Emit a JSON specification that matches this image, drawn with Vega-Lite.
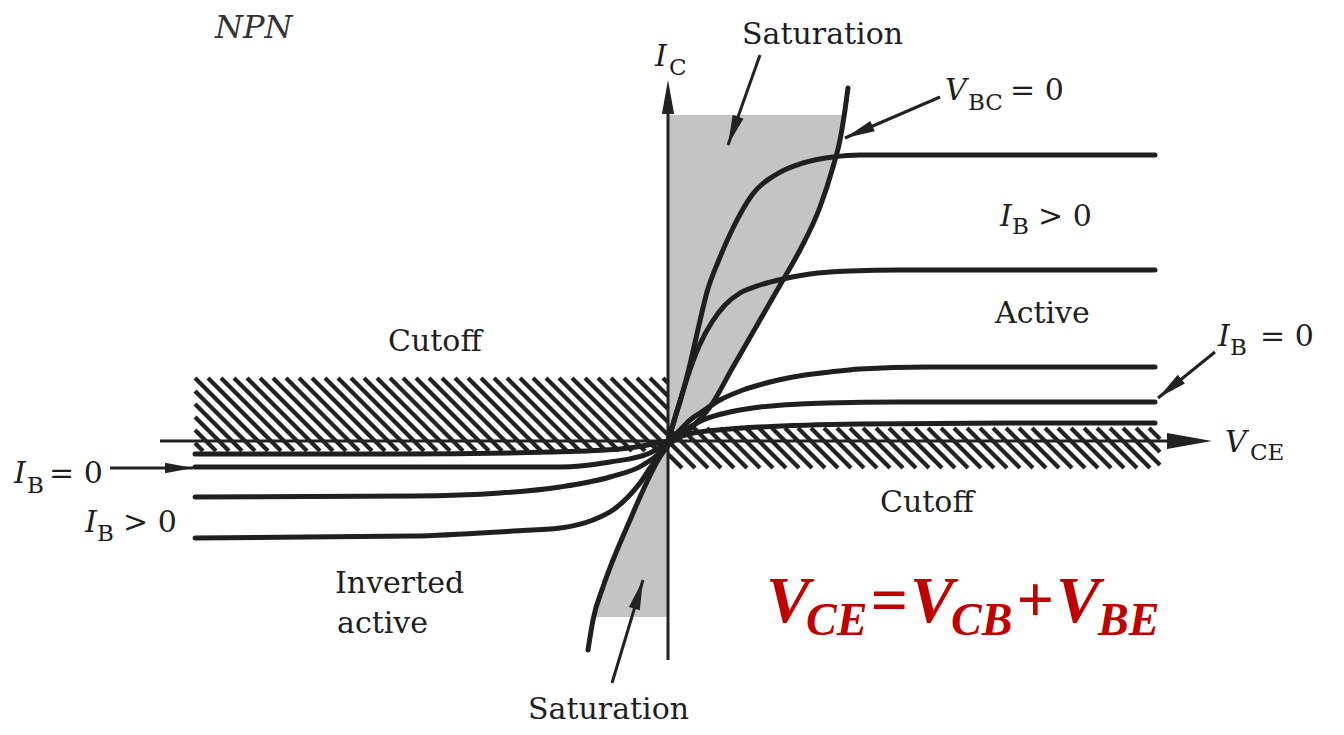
{
  "$schema": "https://vega.github.io/schema/vega-lite/v6.json",
  "width": 1344,
  "height": 735,
  "autosize": {"type": "fit", "contains": "padding"},
  "padding": 0,
  "background": "white",
  "config": {"view": {"stroke": null}},
  "datasets": {
    "shadeUp": [
      {"y": 0, "x": 0.07}, {"y": 0.10, "x": 0.20}, {"y": 0.34, "x": 0.42}, {"y": 0.74, "x": 0.65},
      {"y": 1.21, "x": 0.92}, {"y": 1.61, "x": 1.15}, {"y": 1.91, "x": 1.32}, {"y": 2.34, "x": 1.52},
      {"y": 2.74, "x": 1.65}, {"y": 3.01, "x": 1.72}, {"y": 3.26, "x": 1.765}
    ],
    "shadeDown": [
      {"y": 0, "x": 0}, {"y": -0.05, "x": 0}, {"y": -0.16, "x": -0.08}, {"y": -0.56, "x": -0.28},
      {"y": -0.79, "x": -0.38}, {"y": -1.19, "x": -0.55}, {"y": -1.46, "x": -0.65}, {"y": -1.76, "x": -0.74}
    ],
    "hatch": [
      {"x": -4.73, "y": -0.02, "x2": -4.65, "y2": -0.10},
      {"x": -4.73, "y": 0.11, "x2": -4.52, "y2": -0.10},
      {"x": -4.73, "y": 0.24, "x2": -4.39, "y2": -0.10},
      {"x": -4.73, "y": 0.37, "x2": -4.26, "y2": -0.10},
      {"x": -4.73, "y": 0.50, "x2": -4.13, "y2": -0.10},
      {"x": -4.73, "y": 0.63, "x2": -4.00, "y2": -0.10},
      {"x": -4.60, "y": 0.63, "x2": -3.87, "y2": -0.10},
      {"x": -4.47, "y": 0.63, "x2": -3.74, "y2": -0.10},
      {"x": -4.34, "y": 0.63, "x2": -3.61, "y2": -0.10},
      {"x": -4.21, "y": 0.63, "x2": -3.48, "y2": -0.10},
      {"x": -4.08, "y": 0.63, "x2": -3.35, "y2": -0.10},
      {"x": -3.95, "y": 0.63, "x2": -3.22, "y2": -0.10},
      {"x": -3.82, "y": 0.63, "x2": -3.09, "y2": -0.10},
      {"x": -3.69, "y": 0.63, "x2": -2.96, "y2": -0.10},
      {"x": -3.56, "y": 0.63, "x2": -2.83, "y2": -0.10},
      {"x": -3.43, "y": 0.63, "x2": -2.70, "y2": -0.10},
      {"x": -3.30, "y": 0.63, "x2": -2.57, "y2": -0.10},
      {"x": -3.17, "y": 0.63, "x2": -2.44, "y2": -0.10},
      {"x": -3.04, "y": 0.63, "x2": -2.31, "y2": -0.10},
      {"x": -2.91, "y": 0.63, "x2": -2.18, "y2": -0.10},
      {"x": -2.78, "y": 0.63, "x2": -2.05, "y2": -0.10},
      {"x": -2.65, "y": 0.63, "x2": -1.92, "y2": -0.10},
      {"x": -2.52, "y": 0.63, "x2": -1.79, "y2": -0.10},
      {"x": -2.39, "y": 0.63, "x2": -1.66, "y2": -0.10},
      {"x": -2.26, "y": 0.63, "x2": -1.53, "y2": -0.10},
      {"x": -2.13, "y": 0.63, "x2": -1.40, "y2": -0.10},
      {"x": -2.00, "y": 0.63, "x2": -1.27, "y2": -0.10},
      {"x": -1.87, "y": 0.63, "x2": -1.14, "y2": -0.10},
      {"x": -1.74, "y": 0.63, "x2": -1.01, "y2": -0.10},
      {"x": -1.61, "y": 0.63, "x2": -0.88, "y2": -0.10},
      {"x": -1.48, "y": 0.63, "x2": -0.75, "y2": -0.10},
      {"x": -1.35, "y": 0.63, "x2": -0.62, "y2": -0.10},
      {"x": -1.22, "y": 0.63, "x2": -0.49, "y2": -0.10},
      {"x": -1.09, "y": 0.63, "x2": -0.36, "y2": -0.10},
      {"x": -0.96, "y": 0.63, "x2": -0.23, "y2": -0.10},
      {"x": -0.83, "y": 0.63, "x2": -0.10, "y2": -0.10},
      {"x": -0.70, "y": 0.63, "x2": 0, "y2": -0.07},
      {"x": -0.57, "y": 0.63, "x2": 0, "y2": 0.06},
      {"x": -0.44, "y": 0.63, "x2": 0, "y2": 0.19},
      {"x": -0.31, "y": 0.63, "x2": 0, "y2": 0.32},
      {"x": -0.18, "y": 0.63, "x2": 0, "y2": 0.45},
      {"x": -0.05, "y": 0.63, "x2": 0, "y2": 0.58},
      {"x": 0, "y": -0.13, "x2": 0.14, "y2": -0.27},
      {"x": 0, "y": 0.00, "x2": 0.27, "y2": -0.27},
      {"x": 0.00, "y": 0.13, "x2": 0.40, "y2": -0.27},
      {"x": 0.13, "y": 0.13, "x2": 0.53, "y2": -0.27},
      {"x": 0.26, "y": 0.13, "x2": 0.66, "y2": -0.27},
      {"x": 0.39, "y": 0.13, "x2": 0.79, "y2": -0.27},
      {"x": 0.52, "y": 0.13, "x2": 0.92, "y2": -0.27},
      {"x": 0.65, "y": 0.13, "x2": 1.05, "y2": -0.27},
      {"x": 0.78, "y": 0.13, "x2": 1.18, "y2": -0.27},
      {"x": 0.91, "y": 0.13, "x2": 1.31, "y2": -0.27},
      {"x": 1.04, "y": 0.13, "x2": 1.44, "y2": -0.27},
      {"x": 1.17, "y": 0.13, "x2": 1.57, "y2": -0.27},
      {"x": 1.30, "y": 0.13, "x2": 1.70, "y2": -0.27},
      {"x": 1.43, "y": 0.13, "x2": 1.83, "y2": -0.27},
      {"x": 1.56, "y": 0.13, "x2": 1.96, "y2": -0.27},
      {"x": 1.69, "y": 0.13, "x2": 2.09, "y2": -0.27},
      {"x": 1.82, "y": 0.13, "x2": 2.22, "y2": -0.27},
      {"x": 1.95, "y": 0.13, "x2": 2.35, "y2": -0.27},
      {"x": 2.08, "y": 0.13, "x2": 2.48, "y2": -0.27},
      {"x": 2.21, "y": 0.13, "x2": 2.61, "y2": -0.27},
      {"x": 2.34, "y": 0.13, "x2": 2.74, "y2": -0.27},
      {"x": 2.47, "y": 0.13, "x2": 2.87, "y2": -0.27},
      {"x": 2.60, "y": 0.13, "x2": 3.00, "y2": -0.27},
      {"x": 2.73, "y": 0.13, "x2": 3.13, "y2": -0.27},
      {"x": 2.86, "y": 0.13, "x2": 3.26, "y2": -0.27},
      {"x": 2.99, "y": 0.13, "x2": 3.39, "y2": -0.27},
      {"x": 3.12, "y": 0.13, "x2": 3.52, "y2": -0.27},
      {"x": 3.25, "y": 0.13, "x2": 3.65, "y2": -0.27},
      {"x": 3.38, "y": 0.13, "x2": 3.78, "y2": -0.27},
      {"x": 3.51, "y": 0.13, "x2": 3.91, "y2": -0.27},
      {"x": 3.64, "y": 0.13, "x2": 4.04, "y2": -0.27},
      {"x": 3.77, "y": 0.13, "x2": 4.17, "y2": -0.27},
      {"x": 3.90, "y": 0.13, "x2": 4.30, "y2": -0.27},
      {"x": 4.03, "y": 0.13, "x2": 4.43, "y2": -0.27},
      {"x": 4.16, "y": 0.13, "x2": 4.56, "y2": -0.27},
      {"x": 4.29, "y": 0.13, "x2": 4.69, "y2": -0.27},
      {"x": 4.42, "y": 0.13, "x2": 4.82, "y2": -0.27},
      {"x": 4.55, "y": 0.13, "x2": 4.92, "y2": -0.24},
      {"x": 4.68, "y": 0.13, "x2": 4.92, "y2": -0.11},
      {"x": 4.81, "y": 0.13, "x2": 4.92, "y2": 0.02}
    ],
    "axes": [
      {"name": "VCE", "x": -5.08, "y": 0, "x2": 5.25, "y2": 0},
      {"name": "IC", "x": 0, "y": -2.19, "x2": 0, "y2": 3.45}
    ],
    "axisTips": [
      {"name": "VCE", "x": 5.44, "y": 0},
      {"name": "IC", "x": 0, "y": 3.61}
    ],
    "curves": [
      {"c": "IB4", "x": 0, "y": 0}, {"c": "IB4", "x": 0.07, "y": 0.23}, {"c": "IB4", "x": 0.14, "y": 0.46},
      {"c": "IB4", "x": 0.23, "y": 0.81}, {"c": "IB4", "x": 0.31, "y": 1.16}, {"c": "IB4", "x": 0.39, "y": 1.49},
      {"c": "IB4", "x": 0.50, "y": 1.79}, {"c": "IB4", "x": 0.65, "y": 2.13}, {"c": "IB4", "x": 0.84, "y": 2.46},
      {"c": "IB4", "x": 1.09, "y": 2.67}, {"c": "IB4", "x": 1.35, "y": 2.78}, {"c": "IB4", "x": 1.65, "y": 2.84},
      {"c": "IB4", "x": 1.92, "y": 2.86}, {"c": "IB4", "x": 4.87, "y": 2.86},
      {"c": "IB3", "x": 0, "y": 0}, {"c": "IB3", "x": 0.08, "y": 0.27}, {"c": "IB3", "x": 0.16, "y": 0.53},
      {"c": "IB3", "x": 0.24, "y": 0.77}, {"c": "IB3", "x": 0.32, "y": 0.97}, {"c": "IB3", "x": 0.44, "y": 1.19},
      {"c": "IB3", "x": 0.57, "y": 1.36}, {"c": "IB3", "x": 0.72, "y": 1.48}, {"c": "IB3", "x": 0.92, "y": 1.56},
      {"c": "IB3", "x": 1.15, "y": 1.62}, {"c": "IB3", "x": 1.42, "y": 1.67}, {"c": "IB3", "x": 1.82, "y": 1.70},
      {"c": "IB3", "x": 2.32, "y": 1.71}, {"c": "IB3", "x": 4.87, "y": 1.71},
      {"c": "IB2", "x": 0, "y": 0}, {"c": "IB2", "x": 0.12, "y": 0.11}, {"c": "IB2", "x": 0.22, "y": 0.21},
      {"c": "IB2", "x": 0.32, "y": 0.28}, {"c": "IB2", "x": 0.52, "y": 0.41}, {"c": "IB2", "x": 0.75, "y": 0.51},
      {"c": "IB2", "x": 1.02, "y": 0.59}, {"c": "IB2", "x": 1.25, "y": 0.64}, {"c": "IB2", "x": 1.62, "y": 0.69},
      {"c": "IB2", "x": 1.92, "y": 0.72}, {"c": "IB2", "x": 2.59, "y": 0.74}, {"c": "IB2", "x": 4.87, "y": 0.74},
      {"c": "IB1", "x": 0, "y": 0}, {"c": "IB1", "x": 0.17, "y": 0.11}, {"c": "IB1", "x": 0.35, "y": 0.21},
      {"c": "IB1", "x": 0.62, "y": 0.29}, {"c": "IB1", "x": 0.92, "y": 0.34}, {"c": "IB1", "x": 1.32, "y": 0.37},
      {"c": "IB1", "x": 1.59, "y": 0.38}, {"c": "IB1", "x": 2.32, "y": 0.39}, {"c": "IB1", "x": 4.87, "y": 0.39},
      {"c": "IB0", "x": 0, "y": 0}, {"c": "IB0", "x": 0.25, "y": 0.08}, {"c": "IB0", "x": 0.62, "y": 0.12},
      {"c": "IB0", "x": 0.92, "y": 0.14}, {"c": "IB0", "x": 1.92, "y": 0.17}, {"c": "IB0", "x": 3.42, "y": 0.18},
      {"c": "IB0", "x": 4.87, "y": 0.18},
      {"c": "L1", "x": -4.73, "y": -0.13}, {"c": "L1", "x": -2.68, "y": -0.13}, {"c": "L1", "x": -1.18, "y": -0.11},
      {"c": "L1", "x": -0.48, "y": -0.08}, {"c": "L1", "x": 0, "y": 0},
      {"c": "L2", "x": -4.73, "y": -0.26}, {"c": "L2", "x": -2.18, "y": -0.26}, {"c": "L2", "x": -1.08, "y": -0.26},
      {"c": "L2", "x": -0.58, "y": -0.21}, {"c": "L2", "x": -0.18, "y": -0.12}, {"c": "L2", "x": 0, "y": 0},
      {"c": "L3", "x": -4.73, "y": -0.56}, {"c": "L3", "x": -2.55, "y": -0.55}, {"c": "L3", "x": -1.68, "y": -0.52},
      {"c": "L3", "x": -1.08, "y": -0.46}, {"c": "L3", "x": -0.58, "y": -0.36}, {"c": "L3", "x": -0.25, "y": -0.24},
      {"c": "L3", "x": -0.08, "y": -0.11}, {"c": "L3", "x": 0, "y": 0},
      {"c": "L4", "x": -4.73, "y": -0.97}, {"c": "L4", "x": -2.55, "y": -0.95}, {"c": "L4", "x": -1.55, "y": -0.90},
      {"c": "L4", "x": -1.08, "y": -0.87}, {"c": "L4", "x": -0.75, "y": -0.79}, {"c": "L4", "x": -0.55, "y": -0.69},
      {"c": "L4", "x": -0.41, "y": -0.57}, {"c": "L4", "x": -0.28, "y": -0.42}, {"c": "L4", "x": -0.18, "y": -0.27},
      {"c": "L4", "x": -0.08, "y": -0.14}, {"c": "L4", "x": 0, "y": 0},
      {"c": "VBC0", "x": -0.80, "y": -2.09}, {"c": "VBC0", "x": -0.75, "y": -1.79}, {"c": "VBC0", "x": -0.65, "y": -1.46},
      {"c": "VBC0", "x": -0.55, "y": -1.19}, {"c": "VBC0", "x": -0.38, "y": -0.79}, {"c": "VBC0", "x": -0.28, "y": -0.56},
      {"c": "VBC0", "x": -0.08, "y": -0.16}, {"c": "VBC0", "x": 0, "y": -0.05}, {"c": "VBC0", "x": 0.20, "y": 0.10},
      {"c": "VBC0", "x": 0.42, "y": 0.34}, {"c": "VBC0", "x": 0.65, "y": 0.74}, {"c": "VBC0", "x": 0.92, "y": 1.21},
      {"c": "VBC0", "x": 1.15, "y": 1.61}, {"c": "VBC0", "x": 1.32, "y": 1.91}, {"c": "VBC0", "x": 1.52, "y": 2.34},
      {"c": "VBC0", "x": 1.65, "y": 2.74}, {"c": "VBC0", "x": 1.72, "y": 3.01}, {"c": "VBC0", "x": 1.77, "y": 3.31},
      {"c": "VBC0", "x": 1.80, "y": 3.53}
    ],
    "arrows": [
      {"name": "satTop", "x": 0.92, "y": 3.86, "tx": 0.60, "ty": 2.96},
      {"name": "vbc", "x": 2.72, "y": 3.44, "tx": 1.77, "ty": 3.03},
      {"name": "ibRight", "x": 5.47, "y": 0.89, "tx": 4.90, "ty": 0.43},
      {"name": "ibLeft", "x": -5.58, "y": -0.27, "tx": -4.75, "ty": -0.27},
      {"name": "satBottom", "x": -0.56, "y": -2.42, "tx": -0.25, "ty": -1.39}
    ],
    "labels": [
      {"t": "Saturation", "x": 0.74, "y": 3.97},
      {"t": "Active", "x": 3.27, "y": 1.18},
      {"t": "Cutoff", "x": -2.80, "y": 0.90},
      {"t": "Cutoff", "x": 2.12, "y": -0.71},
      {"t": "Inverted", "x": -3.33, "y": -1.52},
      {"t": "active", "x": -3.31, "y": -1.92},
      {"t": "Saturation", "x": -1.40, "y": -2.78},
      {"t": "= 0", "x": 3.42, "y": 3.41},
      {"t": "> 0", "x": 3.70, "y": 2.15},
      {"t": "= 0", "x": 5.92, "y": 0.95},
      {"t": "= 0", "x": -6.19, "y": -0.42},
      {"t": "> 0", "x": -5.45, "y": -0.91}
    ],
    "symbols": [
      {"t": "I", "x": -0.13, "y": 3.75},
      {"t": "V", "x": 2.77, "y": 3.41},
      {"t": "I", "x": 3.32, "y": 2.15},
      {"t": "I", "x": 5.50, "y": 0.95},
      {"t": "V", "x": 5.57, "y": -0.11},
      {"t": "I", "x": -6.54, "y": -0.42},
      {"t": "I", "x": -5.83, "y": -0.91}
    ],
    "subscripts": [
      {"t": "C", "x": 0.01, "y": 3.66},
      {"t": "BC", "x": 3.00, "y": 3.31},
      {"t": "B", "x": 3.44, "y": 2.07},
      {"t": "B", "x": 5.62, "y": 0.86},
      {"t": "CE", "x": 5.82, "y": -0.19},
      {"t": "B", "x": -6.41, "y": -0.52},
      {"t": "B", "x": -5.71, "y": -1.00}
    ],
    "formulaMain": [
      {"t": "V", "x": 0.98, "y": -1.81},
      {"t": "=", "x": 2.02, "y": -1.81},
      {"t": "V", "x": 2.42, "y": -1.81},
      {"t": "+", "x": 3.48, "y": -1.81},
      {"t": "V", "x": 3.88, "y": -1.81}
    ],
    "formulaSub": [
      {"t": "CE", "x": 1.38, "y": -1.94},
      {"t": "CB", "x": 2.83, "y": -1.94},
      {"t": "BE", "x": 4.30, "y": -1.94}
    ]
  },
  "encoding": {
    "x": {"field": "x", "type": "quantitative", "axis": null, "scale": {"domain": [-6.68, 6.76], "nice": false, "zero": false}},
    "y": {"field": "y", "type": "quantitative", "axis": null, "scale": {"domain": [-2.94, 4.41], "nice": false, "zero": false}}
  },
  "layer": [
    {
      "data": {"name": "shadeUp"},
      "mark": {"type": "area", "orient": "horizontal", "color": "#c4c4c4", "opacity": 1},
      "encoding": {"x2": {"datum": 0}}
    },
    {
      "data": {"name": "shadeDown"},
      "mark": {"type": "area", "orient": "horizontal", "color": "#c4c4c4", "opacity": 1},
      "encoding": {"x2": {"datum": 0}}
    },
    {
      "data": {"name": "hatch"},
      "mark": {"type": "rule", "color": "#222222", "strokeWidth": 4.2},
      "encoding": {"x2": {"field": "x2"}, "y2": {"field": "y2"}}
    },
    {
      "data": {"name": "axes"},
      "mark": {"type": "rule", "color": "#222222", "strokeWidth": 3},
      "encoding": {"x2": {"field": "x2"}, "y2": {"field": "y2"}}
    },
    {
      "data": {"name": "axisTips"},
      "transform": [{"filter": "datum.name === 'VCE'"}],
      "mark": {"type": "point", "shape": "M0,0L-2,-0.36L-2,0.36Z", "filled": true, "opacity": 1, "size": 2025, "angle": 0, "color": "#222222", "strokeWidth": 0}
    },
    {
      "data": {"name": "axisTips"},
      "transform": [{"filter": "datum.name === 'IC'"}],
      "mark": {"type": "point", "shape": "M0,0L-2,-0.36L-2,0.36Z", "filled": true, "opacity": 1, "size": 1156, "angle": 270, "color": "#222222", "strokeWidth": 0}
    },
    {
      "data": {"name": "curves"},
      "mark": {"type": "line", "color": "#1f1f1f", "strokeWidth": 5, "interpolate": "monotone", "strokeCap": "round", "strokeJoin": "round"},
      "encoding": {"detail": {"field": "c"}}
    },
    {
      "data": {"name": "arrows"},
      "mark": {"type": "rule", "color": "#222222", "strokeWidth": 3},
      "encoding": {"x2": {"field": "tx"}, "y2": {"field": "ty"}}
    },
    {
      "data": {"name": "arrows"},
      "transform": [{"filter": "datum.name === 'satTop'"}],
      "mark": {"type": "point", "shape": "M0,0L-2,-0.38L-2,0.38Z", "filled": true, "opacity": 1, "size": 900, "angle": 109.6, "color": "#222222", "strokeWidth": 0},
      "encoding": {"x": {"field": "tx"}, "y": {"field": "ty"}}
    },
    {
      "data": {"name": "arrows"},
      "transform": [{"filter": "datum.name === 'vbc'"}],
      "mark": {"type": "point", "shape": "M0,0L-2,-0.38L-2,0.38Z", "filled": true, "opacity": 1, "size": 900, "angle": 156.7, "color": "#222222", "strokeWidth": 0},
      "encoding": {"x": {"field": "tx"}, "y": {"field": "ty"}}
    },
    {
      "data": {"name": "arrows"},
      "transform": [{"filter": "datum.name === 'ibRight'"}],
      "mark": {"type": "point", "shape": "M0,0L-2,-0.38L-2,0.38Z", "filled": true, "opacity": 1, "size": 900, "angle": 141.1, "color": "#222222", "strokeWidth": 0},
      "encoding": {"x": {"field": "tx"}, "y": {"field": "ty"}}
    },
    {
      "data": {"name": "arrows"},
      "transform": [{"filter": "datum.name === 'ibLeft'"}],
      "mark": {"type": "point", "shape": "M0,0L-2,-0.38L-2,0.38Z", "filled": true, "opacity": 1, "size": 784, "angle": 0, "color": "#222222", "strokeWidth": 0},
      "encoding": {"x": {"field": "tx"}, "y": {"field": "ty"}}
    },
    {
      "data": {"name": "arrows"},
      "transform": [{"filter": "datum.name === 'satBottom'"}],
      "mark": {"type": "point", "shape": "M0,0L-2,-0.38L-2,0.38Z", "filled": true, "opacity": 1, "size": 900, "angle": 286.8, "color": "#222222", "strokeWidth": 0},
      "encoding": {"x": {"field": "tx"}, "y": {"field": "ty"}}
    },
    {
      "data": {"name": "labels"},
      "mark": {"type": "text", "font": "DejaVu Serif", "fontSize": 30, "align": "left", "baseline": "alphabetic", "color": "#1e1e1e"},
      "encoding": {"text": {"field": "t"}}
    },
    {
      "data": {"values": [{"t": "NPN", "x": -4.53, "y": 4.03}]},
      "mark": {"type": "text", "font": "DejaVu Serif", "fontStyle": "italic", "fontSize": 32, "align": "left", "baseline": "alphabetic", "color": "#333333"},
      "encoding": {"text": {"field": "t"}}
    },
    {
      "data": {"name": "symbols"},
      "mark": {"type": "text", "font": "DejaVu Serif", "fontStyle": "italic", "fontSize": 30, "align": "left", "baseline": "alphabetic", "color": "#1e1e1e"},
      "encoding": {"text": {"field": "t"}}
    },
    {
      "data": {"name": "subscripts"},
      "mark": {"type": "text", "font": "DejaVu Serif", "fontSize": 23, "align": "left", "baseline": "alphabetic", "color": "#1e1e1e"},
      "encoding": {"text": {"field": "t"}}
    },
    {
      "data": {"name": "formulaMain"},
      "mark": {"type": "text", "font": "Liberation Serif", "fontStyle": "italic", "fontWeight": "bold", "fontSize": 66, "align": "left", "baseline": "alphabetic", "color": "#c00000"},
      "encoding": {"text": {"field": "t"}}
    },
    {
      "data": {"name": "formulaSub"},
      "mark": {"type": "text", "font": "Liberation Serif", "fontStyle": "italic", "fontWeight": "bold", "fontSize": 46, "align": "left", "baseline": "alphabetic", "color": "#c00000"},
      "encoding": {"text": {"field": "t"}}
    }
  ]
}
